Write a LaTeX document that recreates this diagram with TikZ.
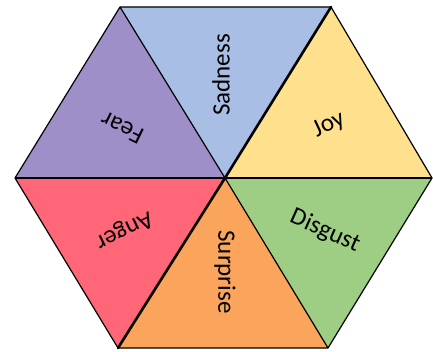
\documentclass[tikz,border=0pt]{standalone}
\usepackage{fontspec}
\setmainfont{Carlito}
\definecolor{cSad}{RGB}{169,190,228}
\definecolor{cFear}{RGB}{158,143,200}
\definecolor{cJoy}{RGB}{255,224,140}
\definecolor{cDis}{RGB}{157,206,131}
\definecolor{cSur}{RGB}{251,165,92}
\definecolor{cAng}{RGB}{255,102,120}
\tikzset{
  tri/.style={draw=black, line width=1.2pt, line join=round},
  thickedge/.style={draw=black, line width=2.6pt, line cap=round},
  lbl/.style={font=\fontsize{25}{29}\selectfont, inner sep=0pt, anchor=center}
}
\begin{document}
\begin{tikzpicture}[x=1pt,y=1pt]
\useasboundingbox (0,0) rectangle (433,351);
\coordinate (C) at (225,173);
\coordinate (TL) at (120,344);
\coordinate (TR) at (331,344);
\coordinate (R) at (432,173);
\coordinate (BR) at (328,3);
\coordinate (BL) at (118,3);
\coordinate (L) at (15,173);
\fill[cSad] (C) -- (TL) -- (TR) -- cycle;
\fill[cJoy] (C) -- (TR) -- (R) -- cycle;
\fill[cDis] (C) -- (R) -- (BR) -- cycle;
\fill[cSur] (C) -- (BR) -- (BL) -- cycle;
\fill[cAng] (C) -- (BL) -- (L) -- cycle;
\fill[cFear] (C) -- (L) -- (TL) -- cycle;
\draw[tri] (TL) -- (TR) -- (R) -- (BR) -- (BL) -- (L) -- cycle;
\draw[tri] (L) -- (R);
\draw[tri] (TL) -- (C) -- (BR);
\draw[thickedge] (TR) -- (C) -- (BL);
\node[lbl, rotate=90] (sad) at (221,276) {Sadness};
\node[lbl, rotate=25] (joy) at (329,226) {Joy};
\node[lbl, rotate=-24] (dis) at (325,120) {Disgust};
\node[lbl, rotate=-90] (sur) at (225,79) {Surprise};
\node[lbl, rotate=206] (ang) at (124,121) {Anger};
\node[lbl, rotate=154] (fear) at (122,223) {Fear};
\end{tikzpicture}
\end{document}
